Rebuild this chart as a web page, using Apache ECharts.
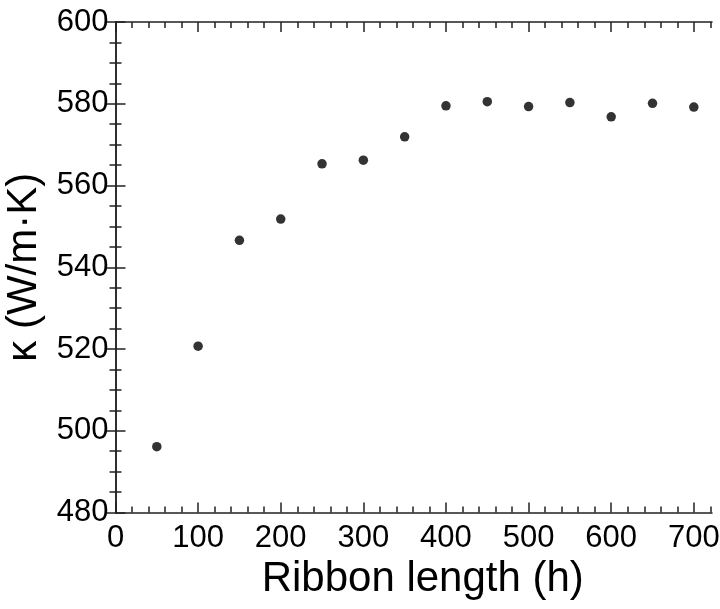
<!DOCTYPE html>
<html><head><meta charset="utf-8">
<script src="https://cdn.jsdelivr.net/npm/echarts@6/dist/echarts.min.js"></script>
<style>html,body{margin:0;padding:0;background:#fff}#c{width:720px;height:609px}</style>
</head><body><div id="c"></div>
<script>
const hours = [50,100,150,200,250,300,350,400,450,500,550,600,650,700];
const kappa = [496.1,520.7,546.6,551.8,565.3,566.2,571.9,579.5,580.5,579.3,580.3,576.8,580.1,579.2];
const xMajorTicks = [0,100,200,300,400,500,600,700];
const xMinorTicks = [20,40,60,80,120,140,160,180,220,240,260,280,320,340,360,380,420,440,460,480,520,540,560,580,620,640,660,680,720];
const xName = 'Ribbon length (h)';
const yName = 'κ (W/m·K)';

const FONT = '"Liberation Sans", Arial, Helvetica, sans-serif';
const LINE = '#222';
const XMIN = 0, XMAX = 722;

function xAx(pos, ticks, len, showLine, showLabel, extra) {
  return Object.assign({
    type: 'value', position: pos, min: XMIN, max: XMAX,
    axisLine: {show: showLine, lineStyle: {color: LINE, width: 1.5}},
    axisTick: {show: true, inside: true, length: len, customValues: ticks, lineStyle: {color: LINE, width: 1.5}},
    axisLabel: {show: showLabel, customValues: xMajorTicks, color: '#000', fontSize: 31, fontFamily: FONT, margin: 10},
    splitLine: {show: false}
  }, extra || {});
}
function yAx(pos, showLabel, extra) {
  return Object.assign({
    type: 'value', position: pos, min: 480, max: 600, interval: 20,
    axisLine: {show: true, lineStyle: {color: LINE, width: 1.5}},
    axisTick: {show: true, inside: true, length: 10, lineStyle: {color: LINE, width: 1.5}},
    minorTick: {show: true, splitNumber: 4, length: 6, lineStyle: {color: LINE, width: 1.5}},
    axisLabel: {show: showLabel, color: '#000', fontSize: 31, fontFamily: FONT, margin: 7},
    splitLine: {show: false}
  }, extra || {});
}

const chart = echarts.init(document.getElementById('c'), null, {renderer: 'canvas'});
chart.setOption({
  animation: false,
  backgroundColor: '#fff',
  grid: {left: 115.5, right: 8, top: 22, bottom: 96.5, containLabel: false, outerBoundsMode: 'none'},
  xAxis: [
    xAx('bottom', xMajorTicks, 10, true, true, {
      name: xName, nameLocation: 'middle', nameGap: 46,
      nameTextStyle: {fontSize: 42, fontFamily: FONT, color: '#000', padding: [0, 0, 0, 18]}
    }),
    xAx('bottom', xMinorTicks, 6, false, false),
    xAx('top', xMajorTicks, 10, true, false),
    xAx('top', xMinorTicks, 6, false, false)
  ],
  yAxis: [
    yAx('left', true, {
      name: yName, nameLocation: 'middle', nameGap: 59,
      nameTextStyle: {fontSize: 42, fontFamily: FONT, color: '#000'}
    }),
    yAx('right', false)
  ],
  series: [{
    type: 'scatter', xAxisIndex: 0, yAxisIndex: 0,
    symbol: 'circle', symbolSize: 9.5,
    itemStyle: {color: '#000'},
    data: hours.map((h, i) => [h, kappa[i]])
  }]
});
</script></body></html>
